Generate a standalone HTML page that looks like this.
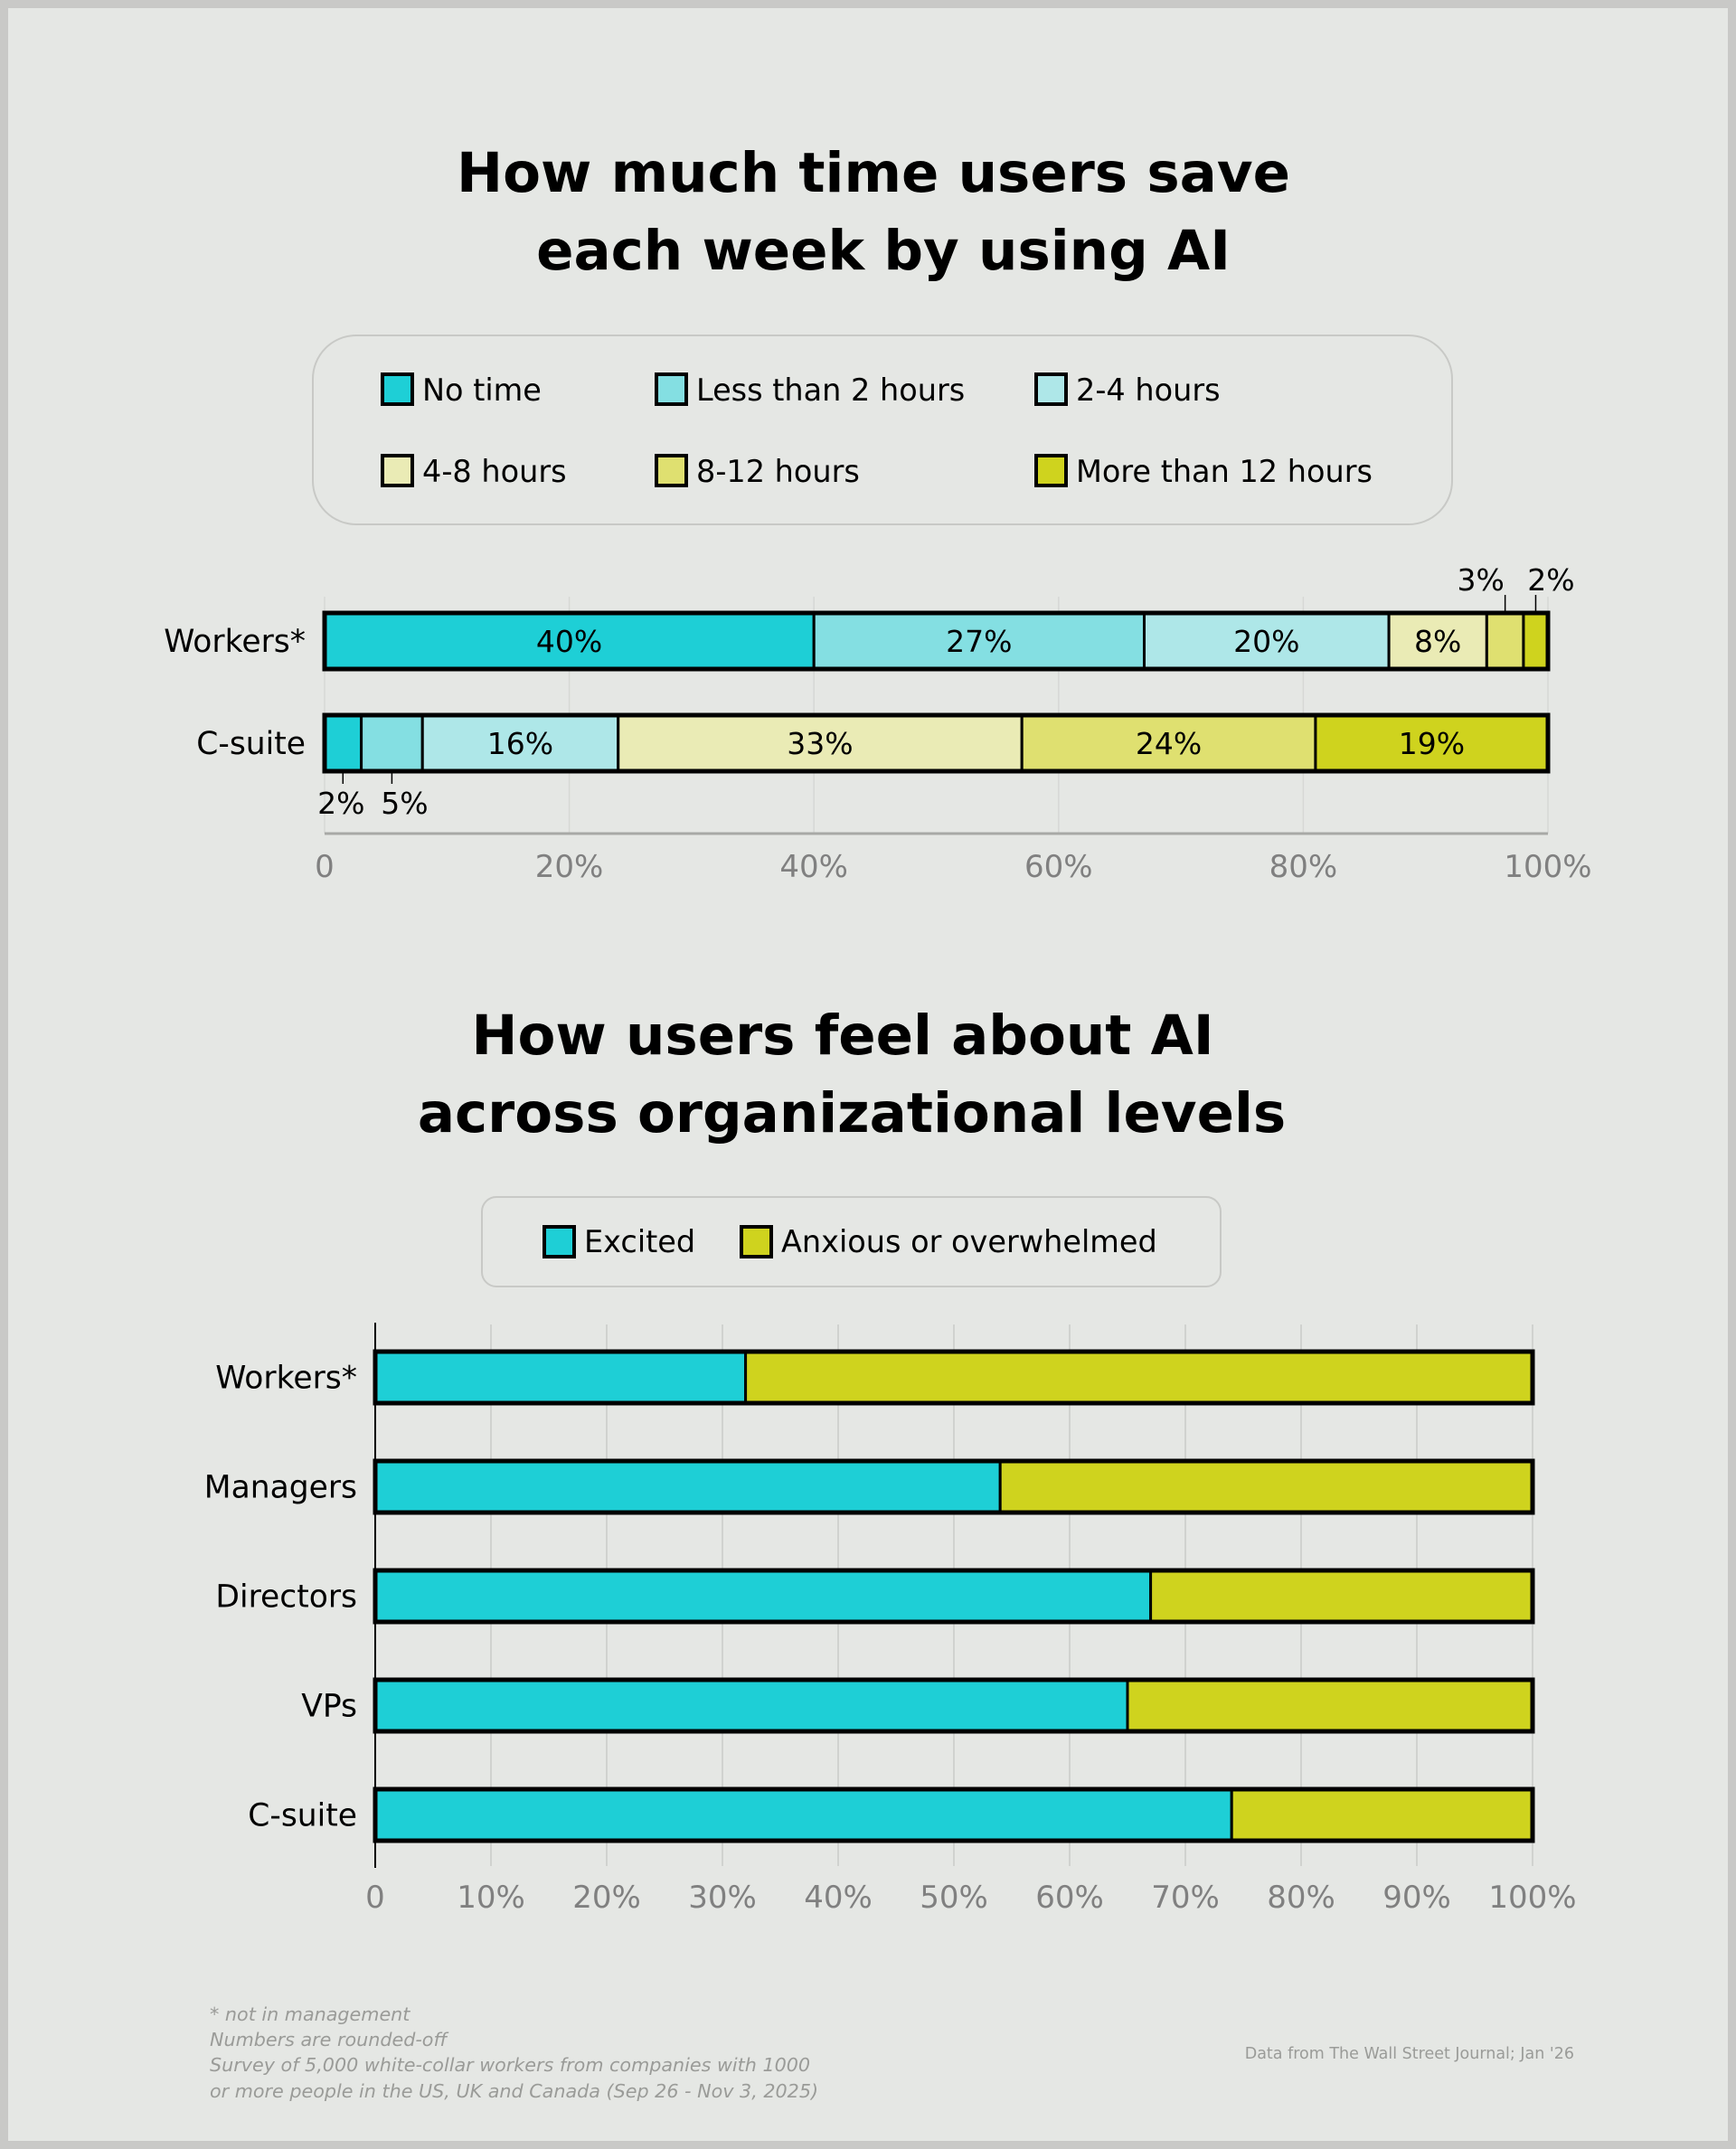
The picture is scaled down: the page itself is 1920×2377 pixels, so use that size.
<!DOCTYPE html>
<html><head><meta charset="utf-8"><style>
html,body{margin:0;padding:0;}
body{width:1920px;height:2377px;background:#c9c9c7;overflow:hidden;}
svg{display:block;font-family:"DejaVu Sans","Liberation Sans",sans-serif;}
</style></head><body>
<svg id="s" width="1920" height="2377" viewBox="0 0 1920 2377" xmlns="http://www.w3.org/2000/svg">
<rect x="9" y="9" width="1902" height="2359" fill="#e5e7e4"/>
<text x="966" y="212" text-anchor="middle" font-size="61" font-weight="bold">How much time users save</text>
<text x="977" y="298" text-anchor="middle" font-size="61" font-weight="bold">each week by using AI</text>
<rect x="346" y="371" width="1260" height="209" rx="48" fill="none" stroke="#c8c9c6" stroke-width="2"/>
<g id="leg1"></g>
<g id="c1"></g>
<text x="932" y="1166" text-anchor="middle" font-size="61" font-weight="bold">How users feel about AI</text>
<text x="942" y="1252" text-anchor="middle" font-size="61" font-weight="bold">across organizational levels</text>
<rect x="533" y="1324" width="817" height="99" rx="16" fill="none" stroke="#c8c9c6" stroke-width="2"/>
<g id="leg2"></g>
<g id="c2"></g>
<g font-size="20.7" font-style="italic" fill="#9a9b98">
<text x="232" y="2235">* not in management</text>
<text x="232" y="2263">Numbers are rounded-off</text>
<text x="232" y="2291">Survey of 5,000 white-collar workers from companies with 1000</text>
<text x="232" y="2320">or more people in the US, UK and Canada (Sep 26 - Nov 3, 2025)</text>
</g>
<text x="1741" y="2277" text-anchor="end" font-size="17.5" fill="#9a9b98">Data from The Wall Street Journal; Jan '26</text>
</svg>
<script>
const NS='http://www.w3.org/2000/svg';
// Chart 1 data
const timeCats=['Workers*','C-suite'];
const timeSeries=['No time','Less than 2 hours','2-4 hours','4-8 hours','8-12 hours','More than 12 hours'];
const timeColors=['#1ecfd6','#84dfe2','#aee7e8','#eaebb5','#dfe070','#cfd31e'];
const workersVals=[40,27,20,8,3,2];
const csuiteVals=[3,5,16,33,24,19];
const workersLabels=['40%','27%','20%','8%','3%','2%'];
const csuiteLabels=['2%','5%','16%','33%','24%','19%'];
const ticks1=[0,20,40,60,80,100];
// Chart 2 data
const levels=['Workers*','Managers','Directors','VPs','C-suite'];
const excited=[32,54,67,65,74];
const anxious=[68,46,33,35,26];
const ticks2=[0,10,20,30,40,50,60,70,80,90,100];

function mk(p,tag,a,txt){const e=document.createElementNS(NS,tag);for(const k in a)e.setAttribute(k,a[k]);if(txt!=null)e.textContent=txt;p.appendChild(e);return e;}

// legend 1
const leg1=document.getElementById('leg1');
const lx=[421,724,1144],ly=[431,521];
timeSeries.forEach((s,i)=>{const x=lx[i%3],y=ly[Math.floor(i/3)];
 const r=mk(leg1,'rect',{x:x+2,y:y-17,width:33,height:33,fill:timeColors[i],stroke:'#000','stroke-width':4});
 
 
 const t=mk(leg1,'text',{x:x+46,y:y+12,'font-size':33.5},s);
 
 
});

// chart 1
const c1=document.getElementById('c1');
const X1=v=>359+v/100*1353;
ticks1.forEach(t=>{const g=mk(c1,'line',{x1:X1(t),x2:X1(t),y1:660,y2:922,stroke:'#d6d8d5','stroke-width':1.5});
 
 
 const tl=mk(c1,'text',{x:X1(t),y:970,'text-anchor':'middle','font-size':34,fill:'#808080'},t===0?'0':t+'%');
 
 
});
const ax=mk(c1,'line',{x1:X1(0),x2:X1(100),y1:922,y2:922,stroke:'#a8a9a6','stroke-width':3});


const rows1=[[workersVals,workersLabels,676],[csuiteVals,csuiteLabels,789]];
rows1.forEach(([vals,labs,top],ri)=>{const h=66;
 const cl=mk(c1,'text',{x:338,y:top+h/2+12,'text-anchor':'end','font-size':34.5},timeCats[ri]);
 
 
 let acc=0;const small=[];
 vals.forEach((v,i)=>{const x0=X1(acc),x1=X1(acc+v);
  const r=mk(c1,'rect',{x:x0,y:top+3,width:x1-x0,height:h-6,fill:timeColors[i],stroke:'#000','stroke-width':3});
  
  
  if(v>=8){const t=mk(c1,'text',{x:(x0+x1)/2,y:top+h/2+12,'text-anchor':'middle','font-size':33},labs[i]);
   
   }
  else small.push([(x0+x1)/2,labs[i]]);
  acc+=v;});
 const o=mk(c1,'rect',{x:X1(0),y:top+2,width:X1(acc)-X1(0),height:h-4,fill:'none',stroke:'#000','stroke-width':5});
 
 
 small.forEach(([cx,lab],k)=>{
  if(ri===0){const ln=mk(c1,'line',{x1:cx,x2:cx,y1:658,y2:676,stroke:'#000','stroke-width':1.5});
   
   
   const t=mk(c1,'text',{x:cx-(k===0?27:-17),y:653,'text-anchor':'middle','font-size':33},lab);
   
   }
  else{const ln=mk(c1,'line',{x1:cx,x2:cx,y1:855,y2:867,stroke:'#000','stroke-width':1.5});
   
   
   const t=mk(c1,'text',{x:cx+(k===0?-2:14),y:900,'text-anchor':'middle','font-size':33},lab);
   
   }
 });
});

// legend 2
const leg2=document.getElementById('leg2');
[['Excited','#1ecfd6',602],['Anxious or overwhelmed','#cfd31e',820]].forEach(([s,c,x])=>{
 const r=mk(leg2,'rect',{x:x,y:1357,width:33,height:33,fill:c,stroke:'#000','stroke-width':4});
 
 
 const t=mk(leg2,'text',{x:x+44,y:1385,'font-size':33.5},s);
 
 
});

// chart 2
const c2=document.getElementById('c2');
const X2=v=>415+v/100*1280;
ticks2.forEach(t=>{if(t>0){const g=mk(c2,'line',{x1:X2(t),x2:X2(t),y1:1465,y2:2064,stroke:'#d0d2cf','stroke-width':2});
 
 }
 const tl=mk(c2,'text',{x:X2(t),y:2110,'text-anchor':'middle','font-size':34,fill:'#808080'},t===0?'0':t+'%');
 
 
});
const yax=mk(c2,'line',{x1:X2(0),x2:X2(0),y1:1463,y2:2066,stroke:'#000','stroke-width':2});


levels.forEach((lv,i)=>{const top=1493+i*121,h=61;
 const cl=mk(c2,'text',{x:395,y:top+h/2+12,'text-anchor':'end','font-size':34.5},lv);
 
 
 const a=mk(c2,'rect',{x:X2(0),y:top+2,width:X2(excited[i])-X2(0),height:h-4,fill:'#1ecfd6',stroke:'#000','stroke-width':3});
 
 
 const b=mk(c2,'rect',{x:X2(excited[i]),y:top+2,width:X2(excited[i]+anxious[i])-X2(excited[i]),height:h-4,fill:'#cfd31e',stroke:'#000','stroke-width':3});
 
 
 const o=mk(c2,'rect',{x:X2(0),y:top+2,width:X2(100)-X2(0),height:h-4,fill:'none',stroke:'#000','stroke-width':5});
 
 
});
</script>
</body></html>
